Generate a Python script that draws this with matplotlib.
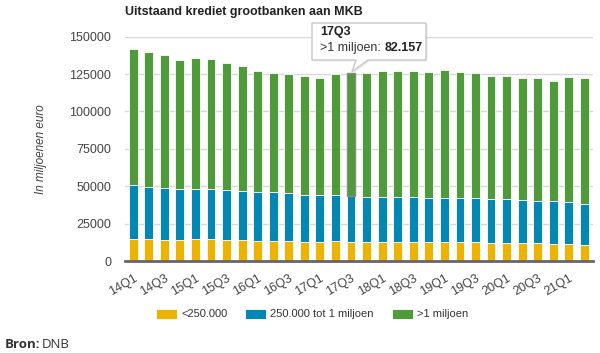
import numpy as np
import matplotlib
matplotlib.use("Agg")
from matplotlib import pyplot as plt
from matplotlib.patches import Polygon
from matplotlib.transforms import IdentityTransform

plt.rcParams['font.family'] = ['Liberation Sans', 'DejaVu Sans']

quarters = ["14Q1", "14Q2", "14Q3", "14Q4", "15Q1", "15Q2", "15Q3", "15Q4",
            "16Q1", "16Q2", "16Q3", "16Q4", "17Q1", "17Q2", "17Q3", "17Q4",
            "18Q1", "18Q2", "18Q3", "18Q4", "19Q1", "19Q2", "19Q3", "19Q4",
            "20Q1", "20Q2", "20Q3", "20Q4", "21Q1", "21Q2"]

# in miljoenen euro
small = [14500, 14500, 14000, 14000, 14500, 14500, 14000, 13800, 13400, 13400,
         13400, 12900, 12900, 13400, 12900, 12500, 12500, 12900, 12900, 12900,
         12500, 12500, 12500, 11800, 11800, 11800, 11800, 11200, 11200, 10700]
mid = [36150, 34800, 34850, 34200, 33700, 33500, 33500, 33000, 32800, 32800,
       32400, 31100, 31100, 31000, 30900, 30300, 30300, 29900, 29900, 29500,
       29900, 29900, 29500, 29500, 29500, 29000, 28600, 28600, 28100, 27700]
large = [90950, 90500, 88750, 86200, 87400, 86900, 84900, 83400, 80900, 79500,
         79500, 79900, 78600, 80900, 82157, 82700, 84100, 84100, 84100, 83800,
         85100, 83800, 83700, 82600, 82600, 81800, 81800, 80400, 84000, 83800]

series_names = ["<250.000", "250.000 tot 1 miljoen", ">1 miljoen"]
colors = ["#ECB400", "#0587B3", "#4F9A3A"]
hover_idx = 14

fig = plt.figure(figsize=(6, 3.53), dpi=100)
ax = fig.add_axes([0.2083, 0.2606, 0.7797, 0.6354])

x = np.arange(len(quarters))
small_a = np.array(small)
mid_a = np.array(mid)
large_a = np.array(large)
w = 0.57
b1 = ax.bar(x, small_a, w, color=colors[0], edgecolor="white", linewidth=0.6, label=series_names[0], zorder=3)
b2 = ax.bar(x, mid_a, w, bottom=small_a, color=colors[1], edgecolor="white", linewidth=0.6, label=series_names[1], zorder=3)
b3 = ax.bar(x, large_a, w, bottom=small_a + mid_a, color=colors[2], edgecolor="white", linewidth=0.6, label=series_names[2], zorder=3)
b3[hover_idx].set_edgecolor("#888888")
b3[hover_idx].set_linewidth(1.0)

ax.set_xlim(-0.53, 29.54)
ax.set_ylim(0, 150000)
ax.set_yticks(np.arange(0, 150001, 25000))
ax.yaxis.grid(True, color="#D8D8D8", linewidth=1, zorder=0)
ax.set_axisbelow(True)
for s in ["top", "right", "left"]:
    ax.spines[s].set_visible(False)
ax.spines["bottom"].set_color("#666666")
ax.spines["bottom"].set_linewidth(2)
ax.spines["bottom"].set_zorder(4)
ax.tick_params(axis="y", length=0, labelsize=9, labelcolor="#444444", pad=10)
ax.tick_params(axis="x", length=0, labelsize=9, labelcolor="#444444", pad=8)
ax.set_xticks(x[::2])
ax.set_xticklabels(quarters[::2], rotation=30, ha="right", rotation_mode="anchor")
ax.set_ylabel("In miljoenen euro", fontsize=8.5, style="italic", color="#444444", labelpad=16)

fig.text(125 / 600, 1 - 12 / 353, "Uitstaand krediet grootbanken aan MKB",
         fontsize=9, fontweight="bold", color="#222222", va="center", ha="left")

leg = fig.legend(handles=[b1, b2, b3], labels=series_names, loc="center",
                 bbox_to_anchor=(312 / 600, 1 - 314 / 353), ncol=3, frameon=False,
                 fontsize=8, handlelength=1.9, handleheight=1.05, columnspacing=1.6,
                 handletextpad=0.35)
for t in leg.get_texts():
    t.set_color("#333333")

fig.text(5 / 600, 1 - 345 / 353, "Bron:", fontsize=9.5, fontweight="bold", color="#333333",
         va="center", ha="left", family="Open Sans")
fig.text(42 / 600, 1 - 345 / 353, "DNB", fontsize=9.5, color="#333333",
         va="center", ha="left", family="Open Sans")

# tooltip for the hovered bar
total_h = small[hover_idx] + mid[hover_idx] + large[hover_idx]
tip_x, tip_y = ax.transData.transform((hover_idx, total_h))
H = 353
bx0, bx1 = 312, 426
by0, by1 = H - 60, H - 23
pts = [(bx0, by0), (tip_x + 5, by0), (tip_x + 1, tip_y + 1), (tip_x + 17, by0),
       (bx1, by0), (bx1, by1), (bx0, by1)]
shadow = Polygon([(px + 1.5, py - 1.5) for px, py in pts], closed=True,
                 facecolor="#000000", alpha=0.08, edgecolor="none", transform=IdentityTransform())
fig.add_artist(shadow)
tip = Polygon(pts, closed=True, facecolor="white", edgecolor="#C8C8C8", linewidth=1,
              transform=IdentityTransform())
fig.add_artist(tip)
fig.text(320 / 600, 1 - 32 / 353, quarters[hover_idx], fontsize=9, fontweight="bold",
         color="#222222", va="center", ha="left")
val_txt = "{:,}".format(large[hover_idx]).replace(",", ".")
lab = fig.text(320 / 600, 1 - 48 / 353, series_names[2] + ": ", fontsize=9,
               color="#333333", va="center", ha="left")
fig.canvas.draw()
bb = lab.get_window_extent()
fig.text(bb.x1 / 600, 1 - 48 / 353, val_txt, fontsize=9, fontweight="bold",
         color="#222222", va="center", ha="left")

fig.savefig("out.png", dpi=100)
